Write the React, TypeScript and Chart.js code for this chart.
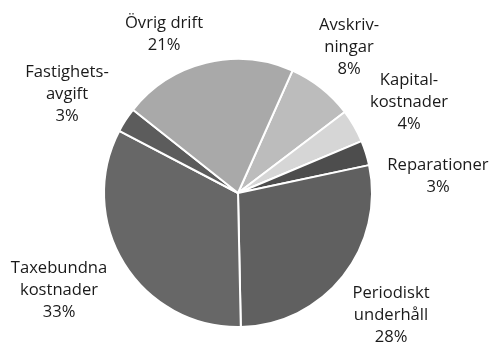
import React, { useEffect, useRef } from "react";
import { Chart, registerables } from "chart.js";

Chart.register(...registerables);

const categories = [
  ["Avskriv-", "ningar"],
  ["Kapital-", "kostnader"],
  ["Reparationer"],
  ["Periodiskt", "underhåll"],
  ["Taxebundna", "kostnader"],
  ["Fastighets-", "avgift"],
  ["Övrig drift"],
];
const values = [8, 4, 3, 28, 33, 3, 21];
const percentLabels = ["8%", "4%", "3%", "28%", "33%", "3%", "21%"];
const colors = ["#bcbcbc", "#d6d6d6", "#4d4d4d", "#606060", "#676767", "#5c5c5c", "#a9a9a9"];

// label anchor positions (centre x, first line y) in canvas px
const labelPos: [number, number][] = [
  [349, 25],
  [409, 80],
  [438, 165],
  [391, 293],
  [59, 268],
  [67, 72],
  [164, 23],
];

const labelPlugin = {
  id: "outerLabels",
  afterDraw(chart: any) {
    const ctx = chart.ctx;
    ctx.save();
    ctx.fillStyle = "#1a1a1a";
    ctx.font = "16.6px 'Open Sans', sans-serif";
    ctx.textAlign = "center";
    ctx.textBaseline = "middle";
    const lineH = 22;
    categories.forEach((lines, i) => {
      const [x, y] = labelPos[i];
      const all = [...lines, percentLabels[i]];
      all.forEach((t, j) => ctx.fillText(t, x, y + j * lineH));
    });
    ctx.restore();
  },
};

export default function App() {
  const ref = useRef<HTMLCanvasElement>(null);
  useEffect(() => {
    const chart = new Chart(ref.current!, {
      type: "pie",
      data: {
        labels: categories.map((c) => c.join("")),
        datasets: [
          {
            data: values,
            backgroundColor: colors,
            borderColor: "#ffffff",
            borderWidth: 2,
          },
        ],
      },
      options: {
        animation: false,
        responsive: false,
        rotation: 24,
        radius: 134,
        layout: { padding: { left: 104, right: 117, top: 59, bottom: 17 } },
        plugins: { legend: { display: false }, tooltip: { enabled: false } },
      },
      plugins: [labelPlugin],
    });
    return () => chart.destroy();
  }, []);
  return (
    <div style={{ position: "fixed", left: 0, top: 0, width: 489, height: 344, background: "#fff" }}>
      <canvas ref={ref} width={489} height={344} />
    </div>
  );
}
